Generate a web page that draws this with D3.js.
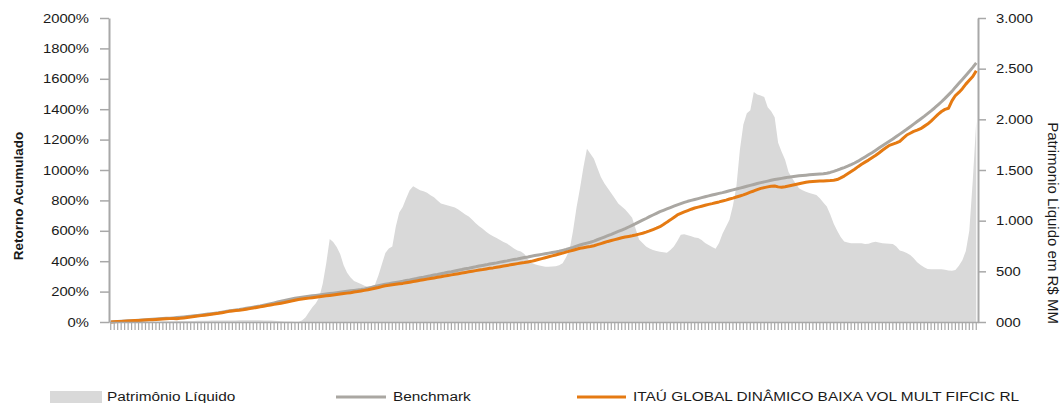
<!DOCTYPE html>
<html><head><meta charset="utf-8">
<script src="https://cdn.jsdelivr.net/npm/d3@7"></script>
<style>
html,body{margin:0;padding:0;background:#fff;}
svg{display:block;font-family:"Liberation Sans",Arial,sans-serif;}
</style></head>
<body>
<svg id="chart" width="1064" height="403"></svg>
<script>
// ---- data ----
const months = d3.range(250); // monthly categories
const patrimonio = [
0,0,0,1,1,2,2,3,3,4,
4,5,5,6,6,7,7,8,8,9,
9,10,10,11,11,12,12,13,13,14,
14,15,15,15,16,16,16,17,17,17,
18,18,18,17,16,15,14,12,10,8,
6,5,4,3,3,15,45,95,145,185,
245,380,580,820,790,740,670,560,485,440,
405,390,376,358,348,355,368,460,570,680,
725,745,940,1080,1135,1220,1300,1340,1320,1300,
1290,1275,1250,1230,1200,1170,1160,1150,1140,1130,
1110,1085,1060,1040,1010,975,945,920,890,865,
845,830,810,790,775,750,725,705,695,670,
620,585,570,560,552,546,545,548,550,560,
580,640,710,900,1130,1320,1530,1710,1660,1610,
1520,1430,1370,1320,1270,1220,1170,1140,1110,1070,
1030,920,815,780,745,725,710,700,694,688,
684,710,745,800,860,865,855,845,835,828,
810,780,760,740,722,780,870,940,1010,1150,
1340,1700,1950,2060,2090,2270,2245,2235,2220,2120,
2080,2020,1770,1680,1600,1480,1420,1370,1320,1300,
1285,1272,1262,1253,1220,1180,1140,1060,970,900,
840,795,785,778,776,777,776,770,772,785,
793,785,777,775,772,770,745,705,695,680,
662,630,590,562,540,522,520,520,520,520,
515,508,506,512,555,610,700,900,1400,1980];
const benchmark = [
0,1.5,3,4.5,6,7.5,9,10.5,12,13.5,
15,16.5,18,19.5,21,22.5,24,25.5,27,29,
31,33,35.5,38,40.5,43,46,49,52,55,
58,61,65,69,73,76,79,82,86,90,
94,98,102,106,111,116,121,126,131,136,
141,146,151,156,160,163,166,169,172,175,
178,181,184,187,190,193,196,199,202,205,
208,211,214,218,223,228,233,238,243,248,
252,256,260,264,268,273,277,282,286,291,
295,300,304,309,313,318,322,327,331,336,
341,345,350,354,359,363,368,372,376,381,
385,389,394,398,402,407,411,415,420,424,
428,433,437,441,445,449,453,457,461,465,
471,477,484,491,499,507,513,519,525,532,
541,550,559,568,577,587,596,605,614,625,
636,647,659,670,681,693,704,715,726,735,
744,753,762,771,779,787,794,800,806,812,
818,824,830,836,841,846,851,857,863,869,
875,881,887,893,899,905,911,917,922,927,
932,937,941,945,949,953,956,959,962,964,
966,968,970,972,974,976,979,984,991,999,
1008,1016,1025,1035,1046,1058,1072,1086,1100,1114,
1129,1144,1159,1174,1189,1204,1220,1236,1252,1268,
1285,1302,1319,1336,1353,1371,1389,1408,1428,1449,
1471,1494,1517,1545,1570,1596,1622,1648,1675,1705];
const fund = [
0,1.3,2.6,4,5.3,6.6,8,9.2,10.5,11.8,
13,14.3,15.6,17,18.3,19.6,21,22.2,23.5,22,
24,27,30,33,36,39,42,45,48,51,
54,57,61,65,70,73,75,77,80,84,
88,92,96,100,104,108,112,116,120,124,
128,133,138,143,148,151,154,157,160,163,
166,169,172,175,178,181,184,187,190,193,
197,200,204,208,212,217,222,227,233,238,
242,245,248,251,254,258,262,266,270,274,
278,282,286,290,294,298,302,306,310,314,
318,322,326,330,334,338,342,345,349,353,
356,360,364,368,372,376,380,384,388,391,
395,399,405,411,417,423,429,435,441,447,
453,460,466,472,479,485,489,493,497,502,
509,516,523,530,536,542,548,554,559,563,
567,572,578,584,591,599,608,617,627,641,
657,672,688,704,714,724,733,742,750,756,
762,768,774,779,785,790,796,802,809,815,
822,829,836,845,854,862,871,879,884,889,
893,895,889,886,890,895,900,905,910,915,
919,923,925,926,927,928,930,931,933,937,
948,960,975,990,1005,1022,1038,1052,1065,1080,
1095,1112,1130,1146,1162,1170,1178,1188,1210,1230,
1242,1254,1262,1272,1287,1302,1322,1344,1366,1385,
1399,1406,1455,1490,1510,1535,1565,1590,1615,1653];
const leftTickValues = [0,200,400,600,800,1000,1200,1400,1600,1800,2000];
const leftTickLabels = ["0%","200%","400%","600%","800%","1000%","1200%","1400%","1600%","1800%","2000%"];
const rightTickValues = [0,500,1000,1500,2000,2500,3000];
const rightTickLabels = ["000","500","1.000","1.500","2.000","2.500","3.000"];
const seriesNames = ["Patrimônio Líquido","Benchmark","ITAÚ GLOBAL DINÂMICO BAIXA VOL MULT FIFCIC RL"];
const leftTitle = "Retorno Acumulado";
const rightTitle = "Patrimonio Liquido em R$ MM";

// ---- layout ----
const X0 = 109, X1 = 978, Y0 = 18, Y1 = 322;
const SX = 1.14;
const AXIS = "#a8a8a8", AREA = "#d9d9d9", GRAY = "#aaa7a2", ORANGE = "#e57a12", TXT = "#1a1a1a";

const svg = d3.select("#chart");
svg.append("rect").attr("width",1064).attr("height",403).attr("fill","#fff");

const xb = d3.scaleBand().domain(months).range([X0, X1]);
const xc = i => xb(i) + xb.bandwidth()/2;
const yL = d3.scaleLinear().domain([0,2000]).range([Y1, Y0]);
const yR = d3.scaleLinear().domain([0,3000]).range([Y1, Y0]);

// area
svg.append("path").datum(months)
  .attr("fill", AREA)
  .attr("d", d3.area().x(i => xc(i)).y0(yR(0)).y1(i => yR(patrimonio[i])));

// lines
svg.append("path").datum(months)
  .attr("fill","none").attr("stroke",GRAY).attr("stroke-width",3).attr("stroke-linejoin","round")
  .attr("d", d3.line().x(i => xc(i)).y(i => yL(benchmark[i])));
svg.append("path").datum(months)
  .attr("fill","none").attr("stroke",ORANGE).attr("stroke-width",3).attr("stroke-linejoin","round")
  .attr("d", d3.line().x(i => xc(i)).y(i => yL(fund[i])));

// bottom axis
const gx = svg.append("g").attr("transform",`translate(0,${Y1})`)
  .call(d3.axisBottom(xb).tickSize(8).tickSizeOuter(0).tickFormat(""));
gx.select(".domain").attr("stroke",AXIS).attr("stroke-width",1.5);
gx.selectAll(".tick line").attr("stroke",AXIS).attr("stroke-width",1.2);

// left axis
const gl = svg.append("g").attr("transform",`translate(${X0},0)`)
  .call(d3.axisLeft(yL).tickValues(leftTickValues).tickFormat((d,i)=>leftTickLabels[i]).tickSize(9).tickSizeOuter(0));
gl.select(".domain").attr("stroke",AXIS).attr("stroke-width",2);
gl.selectAll(".tick line").attr("stroke",AXIS).attr("stroke-width",1.5);
gl.selectAll(".tick text").attr("x",-20/SX).attr("transform",`scale(${SX},1)`)
  .attr("font-size",13).attr("fill",TXT).attr("font-family","'Liberation Sans',Arial,sans-serif");

// right axis
const gr = svg.append("g").attr("transform",`translate(${X1},0)`)
  .call(d3.axisRight(yR).tickValues(rightTickValues).tickFormat((d,i)=>rightTickLabels[i]).tickSize(8).tickSizeOuter(0));
gr.select(".domain").attr("stroke",AXIS).attr("stroke-width",2);
gr.selectAll(".tick line").attr("stroke",AXIS).attr("stroke-width",1.5);
gr.selectAll(".tick text").attr("x",18/SX).attr("transform",`scale(${SX},1)`)
  .attr("font-size",13).attr("fill",TXT).attr("font-family","'Liberation Sans',Arial,sans-serif");

// titles
svg.append("text").attr("transform","translate(18.5,196) rotate(-90)")
  .attr("text-anchor","middle").attr("dominant-baseline","central")
  .attr("font-weight","bold").attr("font-size",13.5).attr("fill",TXT).text(leftTitle);
svg.append("text").attr("transform","translate(1053.5,223) rotate(90)")
  .attr("text-anchor","middle").attr("dominant-baseline","central")
  .attr("font-size",15).attr("fill",TXT).text(rightTitle);

// legend
const LY = 401;
const lg = svg.append("g");
lg.append("rect").attr("x",50).attr("y",391).attr("width",52).attr("height",13).attr("fill",AREA);
lg.append("line").attr("x1",336).attr("x2",386).attr("y1",397).attr("y2",397).attr("stroke",GRAY).attr("stroke-width",3);
lg.append("line").attr("x1",577).attr("x2",626).attr("y1",397).attr("y2",397).attr("stroke",ORANGE).attr("stroke-width",3);
[[107,0],[393,1],[633,2]].forEach(([x,k])=>{
  lg.append("g").attr("transform",`translate(${x},${LY}) scale(${SX},1)`)
    .append("text").attr("font-size",13.5).attr("fill",TXT).text(seriesNames[k]);
});
</script>
</body></html>
